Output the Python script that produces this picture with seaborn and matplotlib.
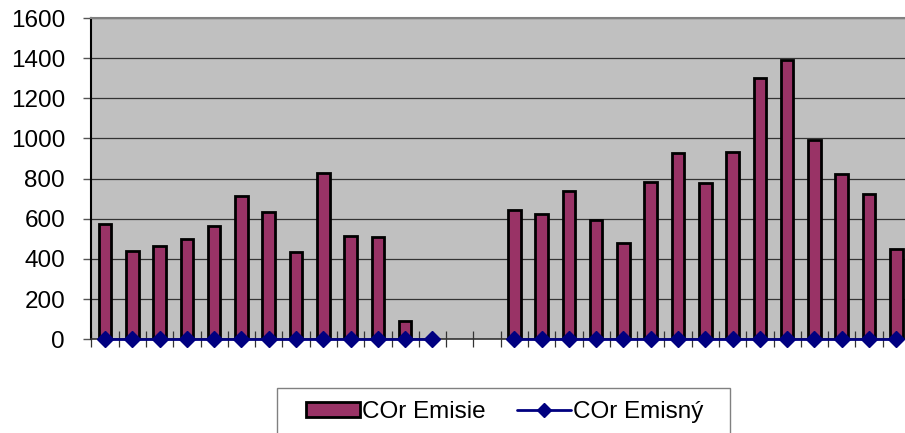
import numpy as np
import pandas as pd
import matplotlib
matplotlib.use("Agg")
import matplotlib.pyplot as plt
from matplotlib.patches import Patch, Rectangle
from matplotlib.lines import Line2D
import seaborn as sns

# data
categories = list(range(1, 31))
emisie = [576, 441, 466, 501, 563, 716, 636, 436, 826, 515, 511, 91, 0,
          np.nan, np.nan,
          645, 623, 741, 596, 478, 785, 930, 780, 935, 1300, 1393, 991, 821, 725, 450]
emisny = [0] * 13 + [np.nan, np.nan] + [0] * 15

df = pd.DataFrame({"cat": categories, "emisie": emisie, "emisny": emisny})

sns.set_theme(style="white")
plt.rcParams['font.family'] = ['Liberation Sans', 'DejaVu Sans']
plt.rcParams['text.color'] = 'black'

fig = plt.figure(figsize=(9.05, 4.33), dpi=100)
ax = fig.add_axes([0.101, 0.2164, 0.9045, 0.742])
ax.set_facecolor("#C0C0C0")

sns.barplot(data=df, x="cat", y="emisie", color="#993366", saturation=1,
            width=0.46, edgecolor="black", linewidth=2, ax=ax, zorder=3)
ax.plot(np.arange(len(categories)), df["emisny"], color="#000080", lw=2,
        marker="D", markersize=8.5, zorder=4, clip_on=False)

ax.set_xlim(-0.5, len(categories) - 0.5)
ax.set_ylim(0, 1600)
ax.set_yticks(range(0, 1601, 200))
ax.set_xticks([])
ax.set_xticks(np.arange(-0.5, len(categories), 1.0), minor=True)
ax.set_xlabel("")
ax.set_ylabel("")
ax.grid(axis="y", color="#333333", lw=0.9, zorder=1)
ax.set_axisbelow(True)

ax.tick_params(axis="y", which="major", left=True, direction="out", length=6,
               width=1, color="#555555", labelsize=17.5, pad=13, labelcolor="black")
ax.tick_params(axis="x", which="minor", bottom=True, direction="inout", length=11,
               width=0.9, color="#333333")

ax.spines["left"].set_color("black")
ax.spines["left"].set_linewidth(1.5)
ax.spines["bottom"].set_color("#333333")
ax.spines["bottom"].set_linewidth(1.2)
ax.spines["top"].set_color("#808080")
ax.spines["top"].set_linewidth(1.5)
ax.spines["right"].set_visible(False)

# legend without its own frame; box drawn separately (it runs off the bottom)
handles = [Patch(facecolor="#993366", edgecolor="black", linewidth=2),
           Line2D([0], [0], color="#000080", lw=2, marker="D", markersize=7.5)]
leg = fig.legend(handles, ["COr Emisie", "COr Emisný"], loc="upper center",
                 bbox_to_anchor=(0.558, 0.104), ncol=2, frameon=False,
                 fontsize=17.5, handlelength=2.2, handleheight=0.55,
                 handletextpad=0.1, columnspacing=1.3, borderpad=0.55,
                 borderaxespad=0, labelcolor="black")
fig.add_artist(Rectangle((277 / 905, -0.02), 453 / 905, 0.02 + 45 / 433,
                         transform=fig.transFigure, fill=False,
                         edgecolor="#808080", linewidth=1))

fig.savefig("out.png", dpi=100)
